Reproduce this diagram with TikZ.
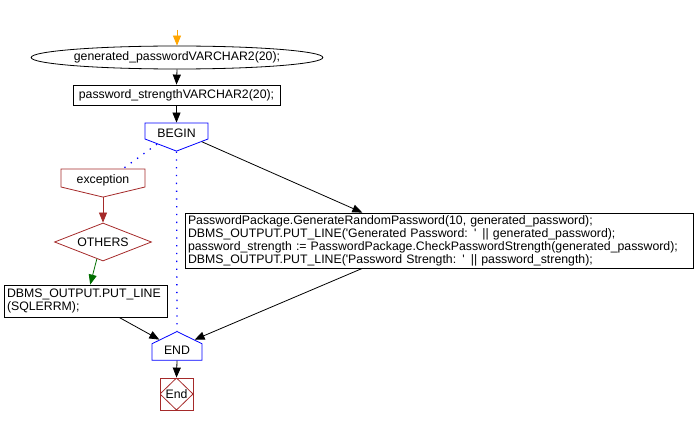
\documentclass[tikz,border=0pt]{standalone}
\usepackage{fontspec}
\setmainfont{Liberation Sans}[Ligatures=TeXOff]
\usetikzlibrary{shapes.geometric,shapes.symbols,arrows.meta}
\definecolor{brownred}{RGB}{165,42,42}
\definecolor{darkgreen}{RGB}{0,110,0}
\definecolor{tiporange}{RGB}{255,165,0}
\begin{document}
\begin{tikzpicture}[x=1pt,y=-1pt,line width=0.8pt,
    font=\fontsize{12.3}{13}\selectfont]
  \tikzset{
    decl/.style={draw=black,ellipse,inner sep=0pt,
      minimum width=222pt,minimum height=23pt},
    stmt/.style={draw=black,rectangle,inner xsep=3pt,inner ysep=1.5pt,
      align=left},
    blockin/.style={draw=blue,signal,signal to=south,signal from=nowhere,
      text height=14pt,text depth=0pt,inner ysep=1pt},
    blockout/.style={draw=blue,signal,signal to=north,signal from=nowhere,
      text height=8pt,text depth=2.5pt,inner ysep=3pt},
    handler/.style={draw=brownred,signal,signal to=south,signal from=nowhere,
      text height=13pt,text depth=1pt,inner ysep=2pt},
    choice/.style={draw=brownred,diamond,aspect=2.5,inner sep=0pt,
      minimum width=97pt,minimum height=38pt},
    stopbox/.style={draw=brownred,rectangle,minimum width=33pt,
      minimum height=32pt,inner sep=0pt,
      path picture={\draw[brownred] (path picture bounding box.north)
        -- (path picture bounding box.east)
        -- (path picture bounding box.south)
        -- (path picture bounding box.west) -- cycle;}},
    flow/.style={-{Triangle[width=8pt,length=10pt]},draw=black},
    jump/.style={blue,line width=1.3pt,dash pattern=on 1.3pt off 6.5pt}
  }
  \useasboundingbox (0,0) rectangle (697,425);

  \coordinate (entry) at (177,30);
  \node[decl] (genpw) at (177,57.5) {generated\_passwordVARCHAR2(20);};
  \node[stmt,minimum width=207pt,minimum height=20pt] (strength) at (176.5,95)
    {password\_strengthVARCHAR2(20);};
  \node[blockin,minimum width=63pt,signal pointer angle=138] (begin)
    at (176.5,131) {BEGIN};
  \node[handler,minimum width=84pt,signal pointer angle=153] (exc)
    at (103,178) {exception};
  \node[choice] (others) at (103,242) {OTHERS};
  \node[stmt,text width=157pt,minimum height=32pt] (errline) at (85.5,301)
    {DBMS\_OUTPUT.PUT\_LINE\\(SQLERRM);};
  \node[stmt,text width=502pt,minimum height=55pt] (body) at (439,240.5)
    {PasswordPackage.GenerateRandomPassword(10, generated\_password);\\
     DBMS\_OUTPUT.PUT\_LINE('Generated Password: ' || generated\_password);\\
     password\_strength := PasswordPackage.CheckPasswordStrength(generated\_password);\\
     DBMS\_OUTPUT.PUT\_LINE('Password Strength: ' || password\_strength);};
  \node[blockout,minimum width=50pt,signal pointer angle=128] (end)
    at (177,352) {END};
  \node[stopbox] (stop) at (176.5,394) {End};

  \draw[flow,draw=tiporange,-{Triangle[width=8pt,length=10pt,fill=tiporange]}]
    (entry) -- (genpw.north);
  \draw[flow] (genpw.south) -- (strength.north);
  \draw[flow] (strength.south) -- (begin.north);
  \draw[jump] (begin.south) -- (end.north);
  \draw[jump] (begin.214) -- (exc.25);
  \draw[flow,draw=brownred,-{Triangle[width=8pt,length=10pt,fill=brownred]}]
    (exc.south) -- (others.north);
  \draw[flow,draw=darkgreen,-{Triangle[width=8pt,length=10pt,fill=darkgreen]}]
    (others.250) -- (errline.74);
  \draw[flow] (errline.-26) -- (end.145);
  \draw[flow] (begin.-23) -- (body.160);
  \draw[flow] (body.200) -- (end.35);
  \draw[flow] (end.south) -- (stop.north);
\end{tikzpicture}
\end{document}
